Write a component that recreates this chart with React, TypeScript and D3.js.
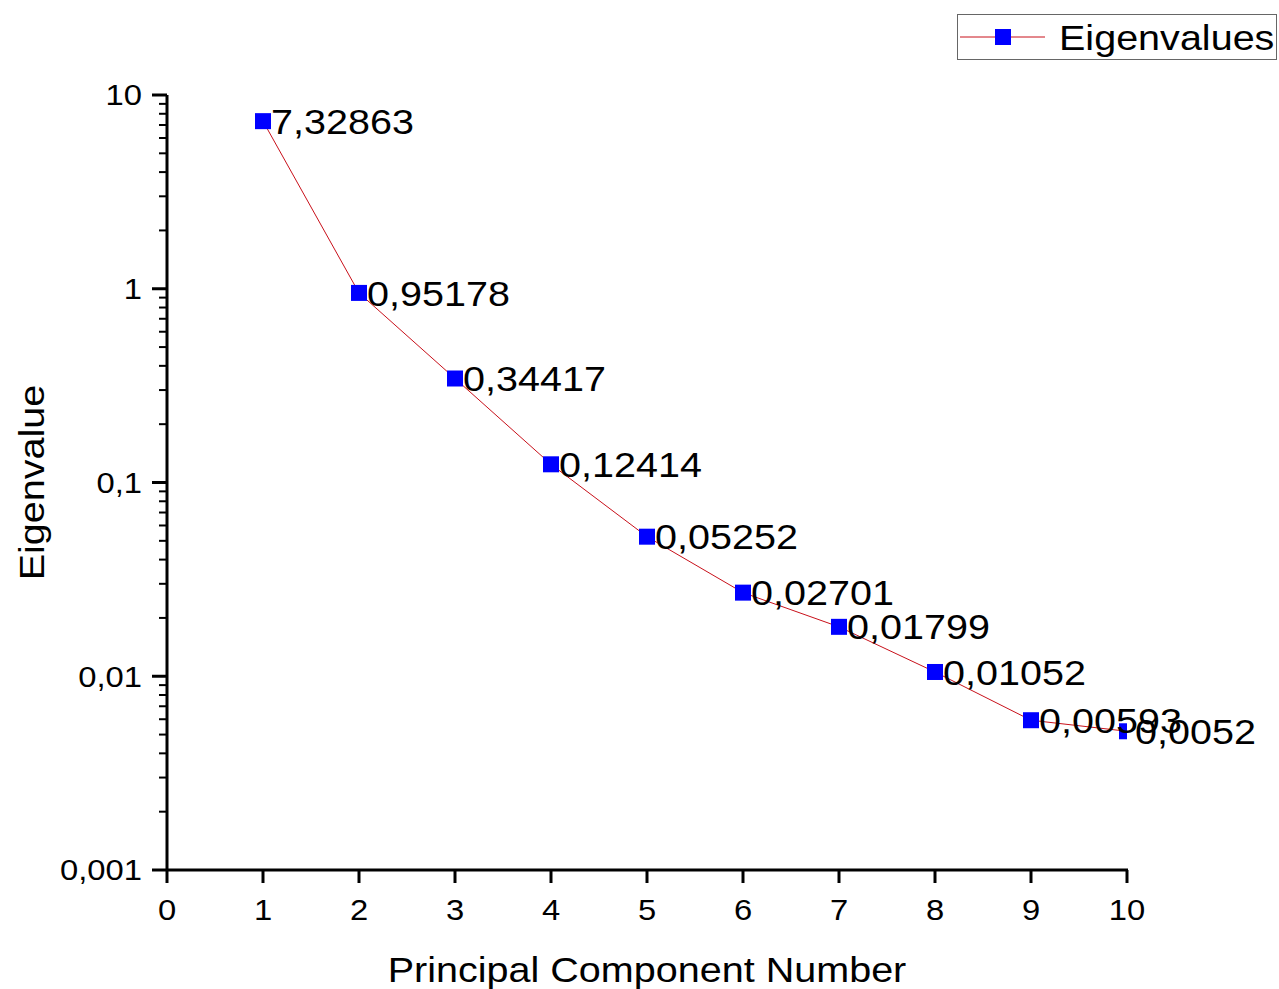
import React, { useEffect } from 'react';
import * as d3 from 'd3';

const components = [1, 2, 3, 4, 5, 6, 7, 8, 9, 10];
const eigenvalues = [7.32863, 0.95178, 0.34417, 0.12414, 0.05252, 0.02701, 0.01799, 0.01052, 0.00593, 0.0052];
const xTicks = [0, 1, 2, 3, 4, 5, 6, 7, 8, 9, 10];
const yTicks = [10, 1, 0.1, 0.01, 0.001];
const yTickLabels = ['10', '1', '0,1', '0,01', '0,001'];

const W = 1279;
const H = 989;
const FONT = '"Liberation Sans", Arial, sans-serif';
const STRETCH = 1.13; // the original's glyphs are a bit wider than Arial

type TProps = {
  x: number; y: number; size: number; anchor?: string; rotate?: number; dy?: string; children: React.ReactNode;
};
const T = ({ x, y, size, anchor = 'start', rotate = 0, dy = '0', children }: TProps) => (
  <text
    transform={`translate(${x},${y}) rotate(${rotate}) scale(${STRETCH},1)`}
    dy={dy}
    textAnchor={anchor}
    fontSize={size}
    fill="#000"
  >
    {children}
  </text>
);

const App = () => {
  useEffect(() => {
    document.body.style.margin = '0';
  }, []);

  const margin = { left: 167, right: 152, top: 95, bottom: 119 };
  const x = d3.scaleLinear().domain([0, 10]).range([margin.left, W - margin.right]);
  const y = d3.scaleLog().domain([0.001, 10]).range([H - margin.bottom, margin.top]);

  // minor ticks: 2..9 in each decade
  const minor: number[] = [];
  for (let e = -3; e < 1; e++) {
    for (let m = 2; m <= 9; m++) minor.push(m * Math.pow(10, e));
  }

  const pts = components.map((c, i) => [c, eigenvalues[i]] as [number, number]);
  const line = d3.line<[number, number]>().x(d => x(d[0])).y(d => y(d[1]));

  const x0 = x(0), x1 = x(10), y0 = y(0.001), y1 = y(10);
  const ms = 16;

  return (
    <svg width={W} height={H} style={{ display: 'block', background: '#fff' }} fontFamily={FONT}>
      <defs>
        <clipPath id="plot">
          <rect x={x0} y={y1 - 10} width={x1 - x0} height={y0 - y1 + 10} />
        </clipPath>
      </defs>

      {/* series */}
      <g clipPath="url(#plot)">
        <path d={line(pts) || ''} fill="none" stroke="#c8101a" strokeWidth={1} />
        {pts.map((d, i) => (
          <rect key={i} x={x(d[0]) - ms / 2} y={y(d[1]) - ms / 2} width={ms} height={ms} fill="#0000ff" />
        ))}
      </g>

      {/* data labels */}
      {pts.map((d, i) => (
        <T key={i} x={x(d[0]) + 8} y={y(d[1])} dy="0.36em" size={35}>
          {String(d[1]).replace('.', ',')}
        </T>
      ))}

      {/* y axis */}
      <line x1={x0} x2={x0} y1={y1} y2={y0 + 1} stroke="#000" strokeWidth={3} />
      {yTicks.map((t, i) => (
        <g key={t}>
          <line x1={x0 - 15} x2={x0} y1={y(t)} y2={y(t)} stroke="#000" strokeWidth={3} />
          <T x={x0 - 25} y={y(t)} dy="0.36em" anchor="end" size={29}>{yTickLabels[i]}</T>
        </g>
      ))}
      {minor.map(t => (
        <line key={t} x1={x0 - 8} x2={x0} y1={y(t)} y2={y(t)} stroke="#000" strokeWidth={2} />
      ))}

      {/* x axis */}
      <line x1={x0 - 1} x2={x1 + 1} y1={y0} y2={y0} stroke="#000" strokeWidth={3} />
      {xTicks.map(t => (
        <g key={t}>
          <line x1={x(t)} x2={x(t)} y1={y0} y2={y0 + 13} stroke="#000" strokeWidth={3} />
          <T x={x(t)} y={y0 + 40} dy="0.36em" anchor="middle" size={29}>{t}</T>
        </g>
      ))}

      {/* axis titles */}
      <T x={(x0 + x1) / 2} y={982} anchor="middle" size={35}>Principal Component Number</T>
      <T x={31} y={(y0 + y1) / 2} dy="0.36em" anchor="middle" rotate={-90} size={35}>Eigenvalue</T>

      {/* legend */}
      <g>
        <rect x={957.5} y={14.5} width={319} height={45} fill="#fff" stroke="#666" strokeWidth={1} />
        <line x1={960} x2={1045} y1={37} y2={37} stroke="#c8101a" strokeWidth={1} />
        <rect x={1003 - ms / 2} y={37 - ms / 2} width={ms} height={ms} fill="#0000ff" />
        <T x={1059} y={37} dy="0.36em" size={35}>Eigenvalues</T>
      </g>
    </svg>
  );
};

export default App;
